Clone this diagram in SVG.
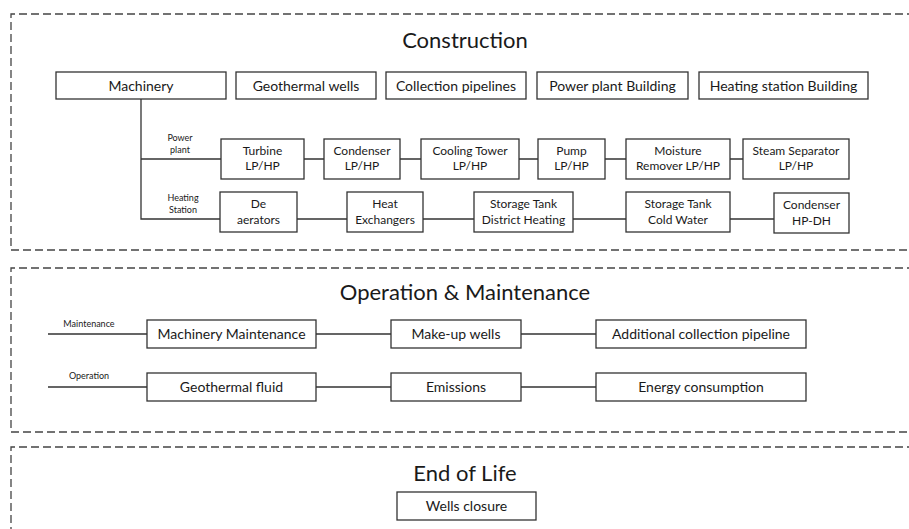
<svg xmlns="http://www.w3.org/2000/svg" width="909" height="529" viewBox="0 0 909 529">
<style>
.sec{fill:none;stroke:#444;stroke-width:1.3;stroke-dasharray:8 4}
.box{fill:#fff;stroke:#333;stroke-width:1.3}
.ln{stroke:#333;stroke-width:1.3;fill:none}
text{font-family:Lato,"Open Sans","Liberation Sans",sans-serif;fill:#1a1a1a;text-anchor:middle}
.t{font-size:22px}
.b{font-size:14px}
.s{font-size:12px}
.l{font-size:9px}
</style>
<rect width="909" height="529" fill="#fff"/>
<g id="sections">
<path class="sec" d="M915 14 H11 V250 H915"/>
<path class="sec" d="M915 268 H11 V432 H915"/>
<path class="sec" d="M915 447 H11 V535"/>
<text class="t" x="465" y="48">Construction</text>
<text class="t" x="465" y="300">Operation &amp; Maintenance</text>
<text class="t" x="465" y="481">End of Life</text>
</g>
<g id="connectors">
<path class="ln" d="M141 99 V219 H220"/>
<path class="ln" d="M141 159 H221"/>
<path class="ln" d="M304 159 H324 M400 159 H421 M519 159 H538 M605 159 H626 M730 159 H743"/>
<path class="ln" d="M297 219 H347 M423 219 H474 M573 219 H626 M730 219 H774"/>
<path class="ln" d="M48 334 H147 M316 334 H391 M521 334 H596"/>
<path class="ln" d="M48 387 H147 M316 387 H391 M521 387 H596"/>
<text class="l" x="180" y="141">Power</text>
<text class="l" x="180" y="153">plant</text>
<text class="l" x="183" y="201">Heating</text>
<text class="l" x="183" y="213">Station</text>
<text class="l" x="89" y="327">Maintenance</text>
<text class="l" x="89" y="379">Operation</text>
</g>
<g id="machinery"><rect class="box" x="56" y="72" width="170" height="27"/><text class="b" x="141" y="90.5">Machinery</text></g>
<g id="geothermal-wells"><rect class="box" x="236" y="72" width="140" height="27"/><text class="b" x="306" y="90.5">Geothermal  wells</text></g>
<g id="collection-pipelines"><rect class="box" x="386" y="72" width="140" height="27"/><text class="b" x="456" y="90.5">Collection pipelines</text></g>
<g id="power-plant-building"><rect class="box" x="537" y="72" width="151" height="27"/><text class="b" x="612.5" y="90.5">Power plant Building</text></g>
<g id="heating-station-building"><rect class="box" x="699" y="72" width="169" height="27"/><text class="b" x="783.5" y="90.5">Heating station Building</text></g>

<g id="turbine"><rect class="box" x="221" y="139" width="83" height="40"/><text class="s" x="262.5" y="155">Turbine</text><text class="s" x="262.5" y="170">LP/HP</text></g>
<g id="condenser"><rect class="box" x="324" y="139" width="76" height="40"/><text class="s" x="362" y="155">Condenser</text><text class="s" x="362" y="170">LP/HP</text></g>
<g id="cooling-tower"><rect class="box" x="421" y="139" width="98" height="40"/><text class="s" x="470" y="155">Cooling Tower</text><text class="s" x="470" y="170">LP/HP</text></g>
<g id="pump"><rect class="box" x="538" y="139" width="67" height="40"/><text class="s" x="571.5" y="155">Pump</text><text class="s" x="571.5" y="170">LP/HP</text></g>
<g id="moisture-remover"><rect class="box" x="626" y="139" width="104" height="40"/><text class="s" x="678" y="155">Moisture</text><text class="s" x="678" y="170">Remover  LP/HP</text></g>
<g id="steam-separator"><rect class="box" x="743" y="139" width="106" height="40"/><text class="s" x="796" y="155">Steam Separator</text><text class="s" x="796" y="170">LP/HP</text></g>

<g id="de-aerators"><rect class="box" x="220" y="192" width="77" height="40"/><text class="s" x="258.5" y="208">De</text><text class="s" x="258.5" y="224">aerators</text></g>
<g id="heat-exchangers"><rect class="box" x="347" y="192" width="76" height="40"/><text class="s" x="385" y="208">Heat</text><text class="s" x="385" y="224">Exchangers</text></g>
<g id="storage-tank-dh"><rect class="box" x="474" y="192" width="99" height="40"/><text class="s" x="523.5" y="208">Storage Tank</text><text class="s" x="523.5" y="224">District Heating</text></g>
<g id="storage-tank-cw"><rect class="box" x="626" y="192" width="104" height="40"/><text class="s" x="678" y="208">Storage Tank</text><text class="s" x="678" y="224">Cold Water</text></g>
<g id="condenser-hpdh"><rect class="box" x="774" y="193" width="75" height="40"/><text class="s" x="811.5" y="209">Condenser</text><text class="s" x="811.5" y="225">HP-DH</text></g>

<g id="machinery-maintenance"><rect class="box" x="147" y="320" width="169" height="28"/><text class="b" x="231.5" y="339">Machinery Maintenance</text></g>
<g id="make-up-wells"><rect class="box" x="391" y="320" width="130" height="28"/><text class="b" x="456" y="339">Make-up wells</text></g>
<g id="additional-pipeline"><rect class="box" x="596" y="320" width="210" height="28"/><text class="b" x="701" y="339">Additional collection pipeline</text></g>
<g id="geothermal-fluid"><rect class="box" x="147" y="373" width="169" height="28"/><text class="b" x="231.5" y="392">Geothermal  fluid</text></g>
<g id="emissions"><rect class="box" x="391" y="373" width="130" height="28"/><text class="b" x="456" y="392">Emissions</text></g>
<g id="energy-consumption"><rect class="box" x="596" y="373" width="210" height="28"/><text class="b" x="701" y="392">Energy consumption</text></g>

<g id="wells-closure"><rect class="box" x="397" y="492" width="139" height="28"/><text class="b" x="466.5" y="511">Wells closure</text></g>
</svg>
